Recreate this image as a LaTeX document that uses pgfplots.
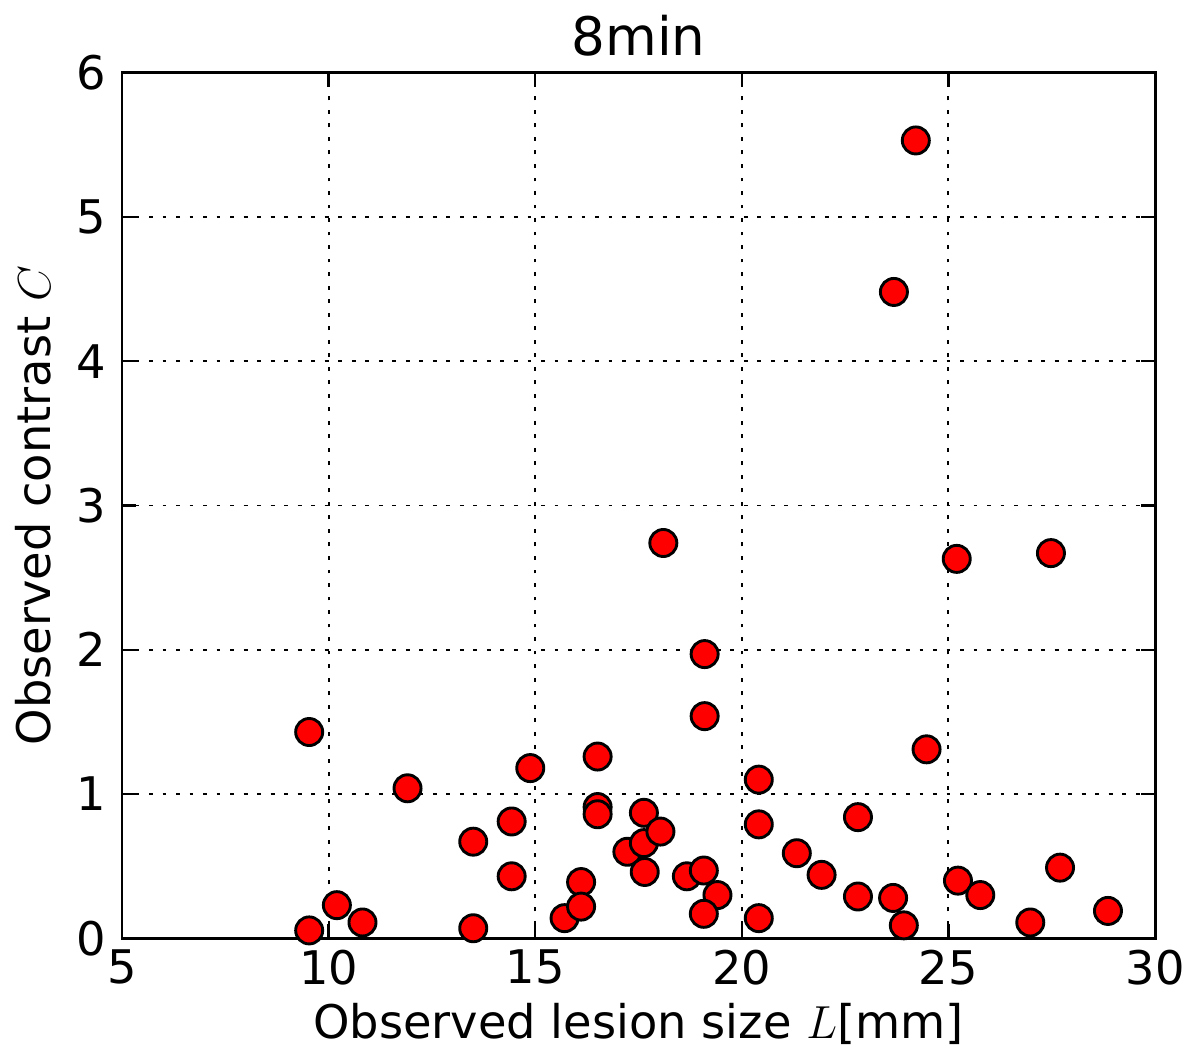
\documentclass[border=0pt]{standalone}
\usepackage{fontspec}
\setmainfont{DejaVu Sans}
\usepackage{pgfplots}
\pgfplotsset{compat=1.18}

\pgfplotstableread{
L C
9.53 1.43
9.53 0.055
10.20 0.23
10.82 0.11
11.91 1.04
13.50 0.67
13.50 0.07
14.43 0.81
14.43 0.43
14.88 1.18
15.71 0.14
16.11 0.39
16.11 0.22
16.51 1.26
16.51 0.91
16.51 0.86
17.23 0.60
17.63 0.66
17.63 0.87
18.03 0.74
17.65 0.46
18.10 2.74
18.67 0.43
19.08 0.47
19.41 0.30
19.08 0.17
19.10 1.97
19.10 1.54
20.41 1.10
20.41 0.79
20.41 0.14
21.33 0.59
21.93 0.44
22.81 0.84
22.81 0.29
23.66 0.28
23.92 0.09
23.68 4.48
24.21 5.53
24.47 1.31
25.20 2.63
25.23 0.40
25.77 0.30
26.98 0.11
27.48 2.67
27.70 0.49
28.86 0.19
}\lesions

\begin{document}
\fontsize{14.4}{17}\selectfont
\begin{tikzpicture}
\begin{axis}[
    scale only axis,
    width=321pt, height=269pt,
    xmin=5, xmax=30, ymin=0, ymax=6,
    xtick={5,10,...,30}, ytick={0,1,...,6},
    tick align=inside, major tick length=4.5pt,
    tick style={black, line width=0.7pt},
    axis line style={line width=0.9pt},
    grid=major,
    grid style={black, line width=0.6pt, dash pattern=on 1.2pt off 3pt},
    title={8min},
    xlabel={Observed lesion size $L$[mm]},
    ylabel={Observed contrast $C$},
    /pgf/number format/assume math mode=true,
    ticklabel style={font=\fontsize{14.4}{17}\selectfont},
    xticklabel style={yshift=1.5pt},
    label style={font=\fontsize{14.4}{17}\selectfont},
    title style={font=\fontsize{16.5}{19}\selectfont, yshift=-6pt},
    xlabel style={yshift=4pt},
    ylabel style={yshift=-2pt},
]
\addplot[only marks, mark=*, mark size=4.2pt,
    mark options={fill=red, draw=black, line width=0.9pt}] table[x=L, y=C] {\lesions};
\end{axis}
\end{tikzpicture}
\end{document}
